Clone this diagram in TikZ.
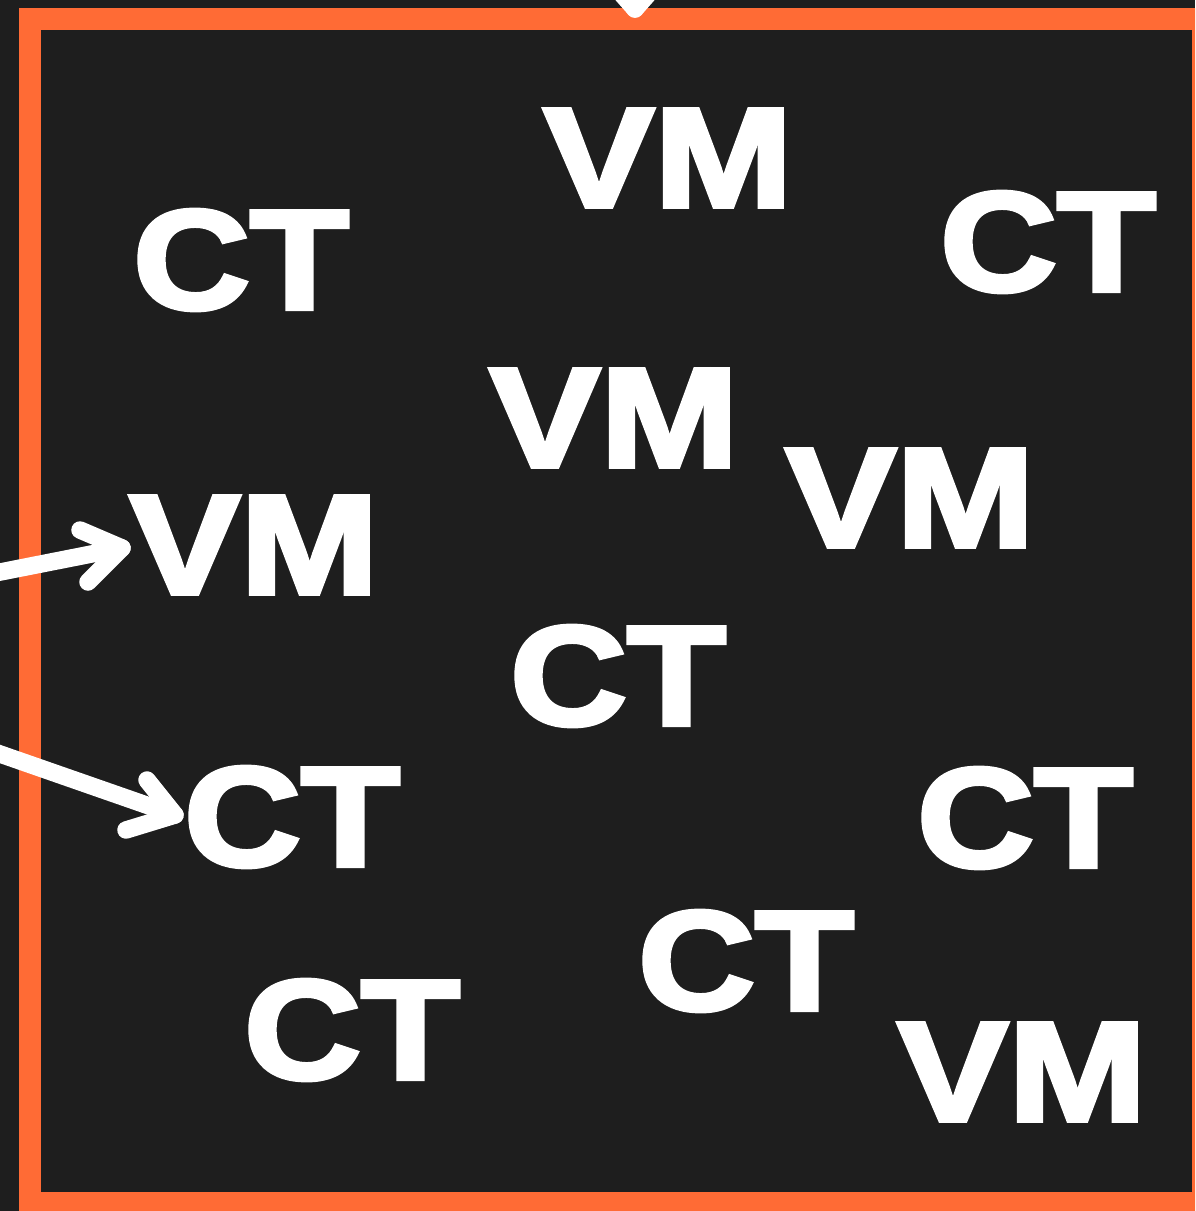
\documentclass[tikz,border=0pt]{standalone}
\usepackage{fontspec}
\setmainfont{Liberation Sans}
\newfontfamily\heavyfont{Liberation Sans Bold}[FakeBold=3]
\definecolor{bg}{HTML}{1E1E1E}
\definecolor{frameor}{HTML}{FF6B35}
\tikzset{
  lbl/.style={text=white, inner sep=0pt, font=\fontsize{142}{142}\heavyfont, transform shape},
  ctlbl/.style={lbl, xscale=1.14},
  vmlbl/.style={lbl, xscale=1.17},
  conn/.style={draw=white, line width=17.5pt, line cap=round, line join=round}
}
\begin{document}
\begin{tikzpicture}[x=1pt, y=-1pt]
\useasboundingbox (0,0) rectangle (1195,1211);
\clip (0,0) rectangle (1195,1211);
\fill[bg] (0,0) rectangle (1195,1211);
\draw[frameor, line width=22pt] (30,19) rectangle (1203,1203);
% labels
\node[ctlbl] (n1) at (241,260) {CT};
\node[vmlbl] (n2) at (668,158) {VM};
\node[ctlbl] (n3) at (1048,242) {CT};
\node[vmlbl] (n4) at (614,418) {VM};
\node[vmlbl] (n5) at (910,498) {VM};
\node[vmlbl] (n6) at (254,545) {VM};
\node[ctlbl] (n7) at (618,676) {CT};
\node[ctlbl] (n8) at (292,817) {CT};
\node[ctlbl] (n9) at (1025,818) {CT};
\node[ctlbl] (n10) at (746,961) {CT};
\node[ctlbl] (n11) at (352,1030) {CT};
\node[vmlbl] (n12) at (1022,1072) {VM};
% connector 1 (to VM)
\coordinate (s1) at (-20,576);
\coordinate (e1) at (122,548);
\coordinate (a1) at (80,530);
\coordinate (b1) at (88,582);
\draw[conn] (s1) -- (e1);
\draw[conn] (a1) -- (e1) -- (b1);
% connector 2 (to CT)
\coordinate (s2) at (-20,747);
\coordinate (e2) at (175,815);
\coordinate (a2) at (147,780);
\coordinate (b2) at (126,830);
\draw[conn] (s2) -- (e2);
\draw[conn] (a2) -- (e2) -- (b2);
% connector 3 (from above, top centre)
\coordinate (s3) at (635,-80);
\coordinate (e3) at (635,9);
\coordinate (a3) at (605,-25);
\coordinate (b3) at (665,-25);
\draw[conn] (s3) -- (e3);
\draw[conn] (a3) -- (e3) -- (b3);
\end{tikzpicture}
\end{document}
